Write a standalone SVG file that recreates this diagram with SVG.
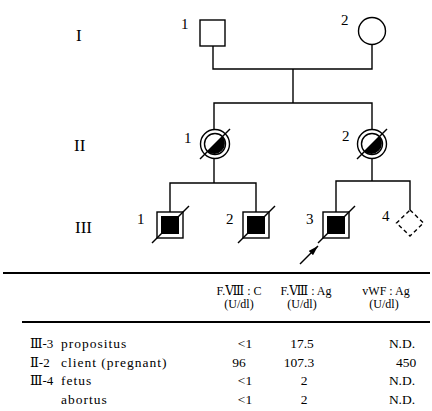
<svg xmlns="http://www.w3.org/2000/svg" width="432" height="411" viewBox="0 0 432 411">
<style>
.ln{stroke:#000;stroke-width:1.4;fill:none}
.sym{stroke:#000;stroke-width:1.4;fill:#fff}
.blk{fill:#000;stroke:none}
.num{font-family:"Liberation Serif",serif;font-size:15px;fill:#000}
.gen{font-family:"Liberation Serif",serif;font-size:17px;fill:#000}
.t{font-family:"Liberation Serif","DejaVu Serif",serif;font-size:13.5px;fill:#000;letter-spacing:1px}
.r{font-family:"Liberation Serif","DejaVu Serif",serif;font-size:13px;fill:#000}
.tc{font-family:"Liberation Serif","DejaVu Serif",serif;font-size:13.5px;fill:#000;text-anchor:middle}
.th{font-family:"Liberation Serif","DejaVu Serif",serif;font-size:12px;fill:#000;text-anchor:middle}
.rule{stroke:#000;stroke-width:1.8}
</style>
<defs>
<marker id="ah" viewBox="0 0 10 6" refX="10" refY="3" markerWidth="10" markerHeight="6" markerUnits="userSpaceOnUse" orient="auto">
<path d="M0,0 L10,3 L0,6 Z" fill="#000"/>
</marker>
</defs>

<g id="gen-labels">
<text class="gen" x="76" y="41">I</text>
<text class="gen" x="74" y="151">II</text>
<text class="gen" x="75" y="233">III</text>
</g>

<g id="connectors">
<path class="ln" d="M213,46 V69 H372 V45"/>
<path class="ln" d="M293,69 V103"/>
<path class="ln" d="M214,130 V103 H372 V130"/>
<path class="ln" d="M214,159 V183"/>
<path class="ln" d="M170,212 V183 H256 V212"/>
<path class="ln" d="M372,159 V181"/>
<path class="ln" d="M336,212 V181 H410 V210"/>
<line class="ln" x1="300" y1="264" x2="318" y2="246" marker-end="url(#ah)"/>
</g>

<g id="I-1">
<rect class="sym" x="200" y="20" width="25" height="26"/>
<text class="num" x="181" y="29">1</text>
</g>
<g id="I-2">
<circle class="sym" cx="372" cy="31" r="13.5"/>
<text class="num" x="341" y="25">2</text>
</g>

<g id="II-1">
<circle class="sym" cx="215" cy="144" r="14.5"/>
<circle class="sym" cx="215" cy="144" r="10.5"/>
<path class="blk" d="M207.6,151.4 A10.5,10.5 0 0 0 222.4,136.6 Z"/>
<line class="ln" x1="200" y1="159" x2="230" y2="129"/>
<text class="num" x="184" y="143">1</text>
</g>
<g id="II-2">
<circle class="sym" cx="372" cy="144" r="14.5"/>
<circle class="sym" cx="372" cy="144" r="10.5"/>
<path class="blk" d="M364.6,151.4 A10.5,10.5 0 0 0 379.4,136.6 Z"/>
<line class="ln" x1="357" y1="159" x2="387" y2="129"/>
<text class="num" x="342" y="141">2</text>
</g>

<g id="III-1">
<rect class="sym" x="157" y="212" width="26" height="26"/>
<rect class="blk" x="161" y="216" width="18" height="18"/>
<line class="ln" x1="152" y1="243" x2="189" y2="206"/>
<text class="num" x="137" y="224">1</text>
</g>
<g id="III-2">
<rect class="sym" x="243" y="212" width="26" height="26"/>
<rect class="blk" x="247" y="216" width="18" height="18"/>
<line class="ln" x1="238" y1="243" x2="275" y2="206"/>
<text class="num" x="226" y="224">2</text>
</g>
<g id="III-3">
<rect class="sym" x="323" y="212" width="26" height="26"/>
<rect class="blk" x="327" y="216" width="18" height="18"/>
<line class="ln" x1="318" y1="243" x2="355" y2="206"/>
<text class="num" x="306" y="224">3</text>
</g>
<g id="III-4">
<path class="sym" d="M410,210 L423.5,223 L410,236 L396.5,223 Z" stroke-dasharray="4,3"/>
<text class="num" x="382" y="221">4</text>
</g>

<g id="table">
<line class="rule" x1="3" y1="273" x2="430" y2="273"/>
<line class="rule" x1="22" y1="322" x2="430" y2="322"/>
<text class="th" x="239" y="295">F.Ⅷ : C</text>
<text class="th" x="239" y="308">(U/dl)</text>
<text class="th" x="306" y="295">F.Ⅷ : Ag</text>
<text class="th" x="302" y="308">(U/dl)</text>
<text class="th" x="386" y="295">vWF : Ag</text>
<text class="th" x="384" y="308">(U/dl)</text>

<text class="r" x="30" y="348">Ⅲ-3</text>
<text class="t" x="61" y="348">propositus</text>
<text class="tc" x="245" y="348">&lt;1</text>
<text class="tc" x="302" y="348">17.5</text>
<text class="tc" x="402" y="348">N.D.</text>

<text class="r" x="30" y="366.5">Ⅱ-2</text>
<text class="t" x="61" y="366.5">client (pregnant)</text>
<text class="tc" x="239" y="366.5">96</text>
<text class="tc" x="299" y="366.5">107.3</text>
<text class="tc" x="406" y="366.5">450</text>

<text class="r" x="30" y="385">Ⅲ-4</text>
<text class="t" x="61" y="385">fetus</text>
<text class="tc" x="245" y="385">&lt;1</text>
<text class="tc" x="304" y="385">2</text>
<text class="tc" x="402" y="385">N.D.</text>

<text class="t" x="61" y="403.5">abortus</text>
<text class="tc" x="245" y="403.5">&lt;1</text>
<text class="tc" x="304" y="403.5">2</text>
<text class="tc" x="402" y="403.5">N.D.</text>
</g>
</svg>
